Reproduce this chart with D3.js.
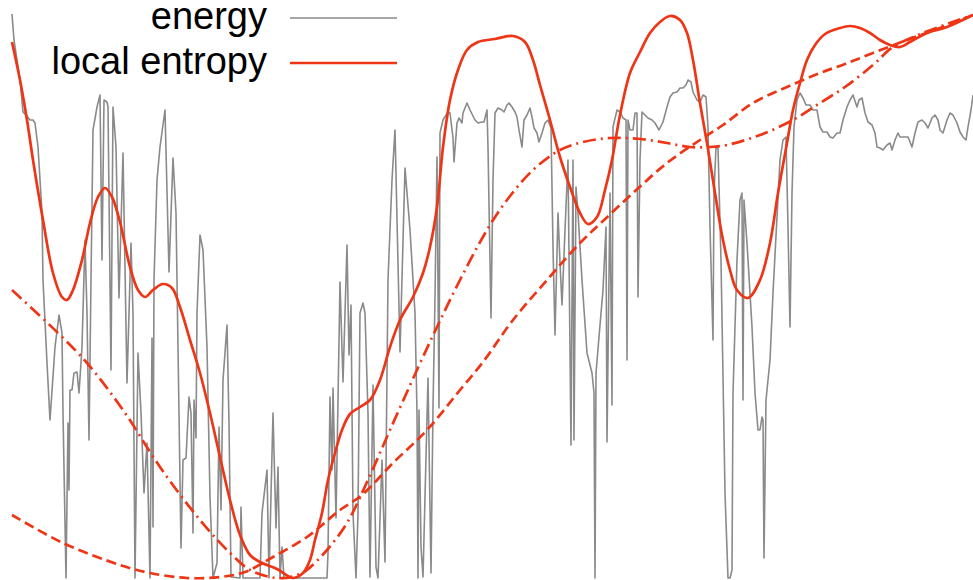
<!DOCTYPE html>
<html>
<head>
<meta charset="utf-8">
<script src="https://cdn.jsdelivr.net/npm/d3@7"></script>
<style>
html,body{margin:0;padding:0;background:#fff;}
svg{display:block;}
</style>
</head>
<body>
<svg id="chart" width="973" height="580"></svg>
<script>
// step, value
const energy = [[0,564],[2,538],[8,498],[11,466],[14,463],[18,458],[21,458],[23,455],[26,431],[30,365],[31,298],[35,215],[38,158],[43,231],[47,263],[50,245],[51,165],[54,0],[56,155],[57,88],[58,188],[60,188],[62,205],[65,206],[67,185],[70,231],[73,338],[75,265],[77,138],[79,298],[81,448],[85,471],[88,483],[90,318],[92,478],[95,476],[96,471],[99,208],[101,471],[104,431],[107,280],[111,425],[115,195],[119,335],[121,265],[123,0],[126,225],[129,165],[132,85],[135,135],[138,0],[140,240],[141,51],[142,298],[145,398],[148,431],[153,468],[157,306],[161,420],[164,365],[166,231],[169,30],[171,118],[174,120],[177,181],[179,165],[181,45],[182,178],[184,140],[185,265],[188,343],[191,328],[195,231],[198,81],[201,0],[205,15],[207,151],[209,68],[211,198],[215,253],[217,155],[219,1],[228,0],[229,71],[231,0],[248,0],[250,65],[255,108],[257,0],[261,165],[264,50],[266,111],[268,0],[270,31],[272,0],[315,0],[316,25],[318,181],[320,108],[321,190],[324,60],[328,296],[331,196],[335,333],[337,223],[339,273],[341,65],[344,0],[346,65],[348,265],[351,275],[353,265],[356,165],[358,1],[361,193],[364,11],[366,0],[370,118],[373,16],[376,298],[380,398],[383,448],[388,226],[393,410],[398,348],[403,265],[405,165],[406,0],[407,168],[409,31],[411,1],[416,200],[419,5],[421,171],[423,281],[425,421],[427,170],[428,445],[431,458],[436,466],[438,465],[441,440],[442,416],[445,455],[447,460],[450,455],[451,465],[455,475],[458,468],[463,458],[466,455],[470,456],[472,456],[475,468],[476,431],[479,260],[481,398],[483,465],[486,470],[490,468],[492,466],[495,473],[497,475],[500,471],[503,466],[505,461],[507,448],[510,431],[512,458],[515,463],[518,470],[520,461],[522,450],[525,445],[527,436],[530,445],[533,455],[536,458],[539,450],[541,331],[543,243],[546,365],[548,315],[550,273],[553,348],[556,418],[559,133],[561,418],[562,138],[564,391],[566,365],[570,298],[575,225],[580,205],[582,185],[583,0],[584,205],[588,253],[591,288],[594,351],[595,136],[598,385],[600,173],[601,451],[605,468],[608,466],[611,460],[614,458],[615,218],[616,458],[618,448],[621,448],[623,465],[625,465],[626,281],[628,418],[630,466],[633,463],[636,460],[640,458],[643,455],[647,448],[651,456],[655,471],[658,481],[661,485],[665,486],[668,490],[671,490],[674,493],[676,498],[679,496],[681,486],[685,478],[688,476],[691,483],[694,481],[696,451],[698,351],[701,238],[702,385],[704,431],[706,430],[709,318],[713,85],[716,0],[718,0],[720,8],[721,185],[725,318],[728,378],[730,385],[731,178],[732,378],[735,335],[740,251],[743,185],[746,148],[748,148],[750,161],[751,158],[752,20],[754,178],[758,218],[761,285],[765,361],[768,418],[771,438],[774,441],[776,351],[778,251],[780,385],[782,451],[785,478],[788,485],[791,480],[794,473],[798,473],[801,468],[805,468],[808,451],[811,446],[815,446],[818,441],[821,440],[825,445],[828,445],[831,458],[835,471],[838,478],[841,483],[845,471],[847,478],[850,480],[853,465],[856,456],[860,453],[863,445],[865,431],[868,430],[871,428],[875,433],[878,435],[880,428],[883,438],[886,445],[888,441],[893,441],[896,441],[900,431],[903,445],[906,456],[910,458],[913,455],[916,450],[920,460],[923,463],[926,458],[928,448],[931,445],[935,458],[938,465],[941,463],[945,455],[948,446],[951,441],[954,438],[956,451],[959,468],[961,483]];

const localEntropy = [[0,536],[8,498],[15,458],[21,418],[31,358],[41,305],[50,281],[55,278],[61,288],[70,318],[78,355],[86,381],[93,390],[100,381],[108,356],[118,311],[126,288],[133,281],[141,288],[151,294],[160,290],[168,271],[178,238],[188,205],[198,165],[208,121],[218,78],[228,43],[238,23],[248,16],[265,9],[281,0],[291,5],[298,18],[303,38],[310,65],[316,98],[323,125],[330,148],[338,164],[348,171],[358,178],[368,198],[378,231],[388,258],[401,281],[411,305],[418,331],[425,371],[431,431],[438,478],[446,508],[455,528],[466,536],[483,539],[501,542],[513,536],[521,518],[528,493],[538,458],[548,421],[558,391],[568,365],[576,354],[585,361],[593,388],[600,418],[608,463],[618,505],[628,526],[638,545],[648,556],[658,562],[668,558],[675,545],[681,518],[688,475],[695,435],[703,385],[710,343],[718,308],[725,288],[736,280],[748,298],[758,335],[766,385],[775,435],[781,468],[788,495],[795,518],[803,533],[813,544],[828,550],[838,552],[848,550],[858,545],[868,538],[878,533],[888,531],[898,536],[915,545],[935,551],[961,563]];

const entropyDashDot = [[0,288],[46,245],[75,215],[111,168],[148,111],[188,58],[218,25],[238,8],[258,1],[273,0],[288,4],[295,8],[315,28],[335,55],[355,96],[378,148],[405,208],[425,251],[448,298],[475,348],[495,378],[521,408],[548,428],[571,436],[598,440],[628,439],[655,435],[678,431],[698,431],[715,433],[748,443],[781,458],[808,475],[833,491],[861,513],[881,531],[911,545],[961,563]];

const entropyDashed = [[0,63],[51,35],[108,13],[138,5],[175,0],[208,1],[233,6],[261,21],[295,41],[328,68],[350,83],[381,115],[415,148],[448,188],[471,216],[501,258],[535,298],[568,335],[591,357],[621,385],[655,415],[688,438],[711,453],[741,475],[775,491],[808,505],[833,514],[861,525],[895,538],[928,550],[961,563]];

const legendLabels = ["energy", "local entropy"];

const RED = "#ee3516";
const GREY = "#8a8a8a";

const svg = d3.select("#chart");
const x = d3.scaleLinear().domain([0, 961]).range([12, 973]);
const y = d3.scaleLinear().domain([0, 564]).range([578, 14]);

const lineLin = d3.line().x(d => x(d[0])).y(d => y(d[1])).curve(d3.curveLinear);
const lineSmooth = d3.line().x(d => x(d[0])).y(d => y(d[1])).curve(d3.curveCatmullRom.alpha(0.5));

svg.append("path").datum(energy)
  .attr("d", lineLin).attr("fill", "none")
  .attr("stroke", GREY).attr("stroke-width", 1.6).attr("stroke-linejoin", "round");

svg.append("path").datum(entropyDashed)
  .attr("d", lineSmooth).attr("fill", "none")
  .attr("stroke", RED).attr("stroke-width", 2.7).attr("stroke-dasharray", "10,5");

svg.append("path").datum(entropyDashDot)
  .attr("d", lineSmooth).attr("fill", "none")
  .attr("stroke", RED).attr("stroke-width", 2.7).attr("stroke-dasharray", "13,5,2,5");

svg.append("path").datum(localEntropy)
  .attr("d", lineSmooth).attr("fill", "none")
  .attr("stroke", RED).attr("stroke-width", 2.7).attr("stroke-linejoin", "round");

// legend
const legend = svg.append("g");
const legendStyles = [{c: GREY, w: 1.6}, {c: RED, w: 2.7}];
legendLabels.forEach((lab, i) => {
  const cy = 18 + i * 45;
  legend.append("text")
    .attr("x", 267).attr("y", cy + 11)
    .attr("text-anchor", "end")
    .attr("font-family", "'Liberation Sans', Arial, sans-serif")
    .attr("font-size", 38)
    .attr("fill", "#000")
    .text(lab);
  legend.append("line")
    .attr("x1", 290).attr("x2", 397).attr("y1", cy).attr("y2", cy)
    .attr("stroke", legendStyles[i].c).attr("stroke-width", legendStyles[i].w);
});
</script>
</body>
</html>
